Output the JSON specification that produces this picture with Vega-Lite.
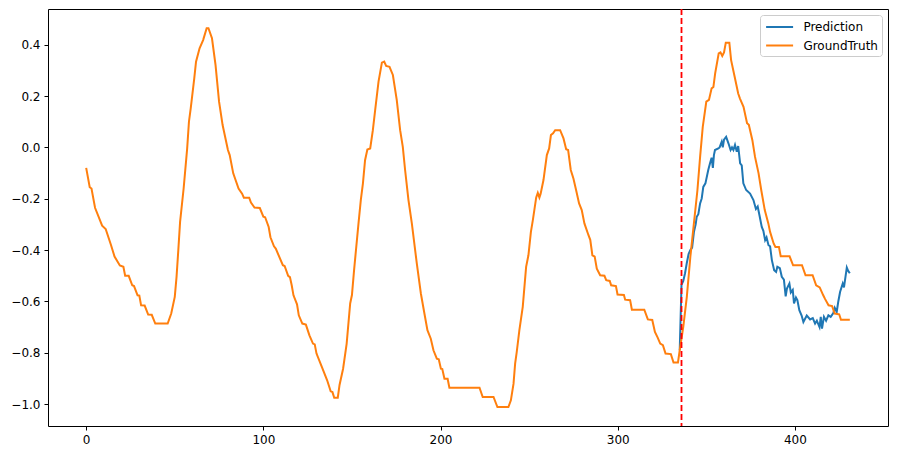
{
  "$schema": "https://vega.github.io/schema/vega-lite/v6.json",
  "width": 840,
  "height": 417,
  "autosize": "none",
  "padding": {"left": 48, "top": 9, "right": 9, "bottom": 30},
  "background": "white",
  "config": {
    "view": {"stroke": "black", "strokeWidth": 1},
    "font": "DejaVu Sans",
    "axis": {"domain": false, "grid": false, "tickColor": "black", "tickSize": 4, "tickWidth": 1, "labelFont": "DejaVu Sans", "labelFontSize": 12, "labelColor": "black", "labelPadding": 4, "title": null},
    "legend": {"orient": "top-right", "offset": 6, "title": null, "labelFont": "DejaVu Sans", "labelFontSize": 12, "labelColor": "black", "strokeColor": "#cccccc", "fillColor": "white", "cornerRadius": 3, "padding": 4, "rowPadding": 4.5, "symbolType": "M-2,0H2", "symbolSize": 182, "symbolStrokeWidth": 2, "symbolOffset": 7.6, "labelOffset": 15.8}
  },
  "datasets": {
    "gt": [
      {"x":0,"y":-0.08},{"x":2,"y":-0.155},{"x":3,"y":-0.16},{"x":5,"y":-0.235},{"x":9,"y":-0.305},{"x":11,"y":-0.318},{"x":14,"y":-0.38},{"x":16,"y":-0.425},{"x":19,"y":-0.46},{"x":21,"y":-0.465},{"x":22,"y":-0.5},{"x":24,"y":-0.5},{"x":26,"y":-0.537},{"x":27,"y":-0.54},{"x":29,"y":-0.576},{"x":30,"y":-0.577},{"x":31,"y":-0.615},{"x":33,"y":-0.616},{"x":35,"y":-0.651},{"x":37,"y":-0.652},{"x":39,"y":-0.686},{"x":46,"y":-0.686},{"x":48,"y":-0.647},{"x":50,"y":-0.582},{"x":51,"y":-0.504},{"x":52,"y":-0.4},{"x":53,"y":-0.29},{"x":55,"y":-0.16},{"x":57,"y":-0.004},{"x":58,"y":0.1},{"x":59,"y":0.152},{"x":61,"y":0.269},{"x":62,"y":0.334},{"x":64,"y":0.386},{"x":66,"y":0.418},{"x":68,"y":0.464},{"x":69,"y":0.464},{"x":71,"y":0.425},{"x":73,"y":0.321},{"x":75,"y":0.178},{"x":77,"y":0.087},{"x":80,"y":-0.01},{"x":81,"y":-0.03},{"x":83,"y":-0.101},{"x":86,"y":-0.16},{"x":88,"y":-0.18},{"x":89,"y":-0.196},{"x":92,"y":-0.196},{"x":93,"y":-0.215},{"x":95,"y":-0.234},{"x":98,"y":-0.236},{"x":100,"y":-0.27},{"x":101,"y":-0.272},{"x":103,"y":-0.31},{"x":104,"y":-0.35},{"x":106,"y":-0.385},{"x":107,"y":-0.394},{"x":111,"y":-0.459},{"x":112,"y":-0.462},{"x":114,"y":-0.5},{"x":115,"y":-0.505},{"x":116,"y":-0.537},{"x":117,"y":-0.576},{"x":119,"y":-0.611},{"x":120,"y":-0.654},{"x":122,"y":-0.686},{"x":124,"y":-0.69},{"x":126,"y":-0.732},{"x":128,"y":-0.764},{"x":129,"y":-0.767},{"x":130,"y":-0.803},{"x":133,"y":-0.855},{"x":136,"y":-0.907},{"x":138,"y":-0.95},{"x":139,"y":-0.953},{"x":140,"y":-0.975},{"x":142,"y":-0.975},{"x":143,"y":-0.925},{"x":145,"y":-0.862},{"x":147,"y":-0.765},{"x":149,"y":-0.608},{"x":150,"y":-0.575},{"x":151.2,"y":-0.478},{"x":152.8,"y":-0.361},{"x":153.7,"y":-0.296},{"x":155,"y":-0.205},{"x":156.2,"y":-0.14},{"x":157.4,"y":-0.05},{"x":158.7,"y":-0.008},{"x":160.3,"y":-0.004},{"x":161.8,"y":0.067},{"x":163.1,"y":0.145},{"x":165,"y":0.256},{"x":166.9,"y":0.33},{"x":168.2,"y":0.334},{"x":169.3,"y":0.317},{"x":171.2,"y":0.314},{"x":173.1,"y":0.282},{"x":175.3,"y":0.184},{"x":177.2,"y":0.067},{"x":178.7,"y":0.002},{"x":180,"y":-0.088},{"x":181.9,"y":-0.205},{"x":183.8,"y":-0.296},{"x":186.6,"y":-0.452},{"x":188.9,"y":-0.569},{"x":190.9,"y":-0.647},{"x":192.6,"y":-0.712},{"x":194.5,"y":-0.745},{"x":196,"y":-0.79},{"x":197.9,"y":-0.823},{"x":199,"y":-0.825},{"x":200.2,"y":-0.862},{"x":201,"y":-0.863},{"x":202.2,"y":-0.901},{"x":204,"y":-0.901},{"x":205,"y":-0.936},{"x":222,"y":-0.936},{"x":223.8,"y":-0.972},{"x":229.9,"y":-0.972},{"x":232.1,"y":-1.011},{"x":238.3,"y":-1.011},{"x":239.7,"y":-0.985},{"x":241.2,"y":-0.92},{"x":242.1,"y":-0.842},{"x":243,"y":-0.797},{"x":244.5,"y":-0.712},{"x":246.4,"y":-0.621},{"x":248.3,"y":-0.465},{"x":249.6,"y":-0.42},{"x":251,"y":-0.329},{"x":252.1,"y":-0.283},{"x":254,"y":-0.195},{"x":254.9,"y":-0.177},{"x":255.8,"y":-0.195},{"x":256.5,"y":-0.18},{"x":258.1,"y":-0.127},{"x":260,"y":-0.03},{"x":261.3,"y":-0.004},{"x":262.3,"y":0.048},{"x":263.5,"y":0.055},{"x":264.7,"y":0.067},{"x":267.5,"y":0.067},{"x":269.4,"y":0.035},{"x":270.9,"y":-0.007},{"x":272,"y":-0.01},{"x":273.5,"y":-0.088},{"x":275,"y":-0.121},{"x":276.5,"y":-0.166},{"x":278.2,"y":-0.218},{"x":279.7,"y":-0.244},{"x":281.2,"y":-0.296},{"x":283.5,"y":-0.342},{"x":284.5,"y":-0.36},{"x":285.7,"y":-0.42},{"x":287,"y":-0.425},{"x":288.2,"y":-0.472},{"x":290.1,"y":-0.498},{"x":292.5,"y":-0.5},{"x":293.5,"y":-0.517},{"x":295.5,"y":-0.52},{"x":296.3,"y":-0.537},{"x":299,"y":-0.54},{"x":299.9,"y":-0.573},{"x":303.5,"y":-0.575},{"x":304.2,"y":-0.593},{"x":307,"y":-0.595},{"x":308,"y":-0.632},{"x":315,"y":-0.632},{"x":317,"y":-0.67},{"x":319.5,"y":-0.672},{"x":321,"y":-0.719},{"x":322.5,"y":-0.74},{"x":324,"y":-0.764},{"x":325.5,"y":-0.77},{"x":327,"y":-0.803},{"x":330,"y":-0.805},{"x":331.5,"y":-0.838},{"x":334,"y":-0.838},{"x":335,"y":-0.79},{"x":336,"y":-0.745},{"x":337,"y":-0.699},{"x":339,"y":-0.582},{"x":341,"y":-0.426},{"x":343,"y":-0.296},{"x":345,"y":-0.166},{"x":346.5,"y":-0.037},{"x":348,"y":0.08},{"x":350,"y":0.178},{"x":351.5,"y":0.185},{"x":353,"y":0.23},{"x":354,"y":0.235},{"x":355,"y":0.288},{"x":357,"y":0.366},{"x":358,"y":0.37},{"x":359,"y":0.356},{"x":360,"y":0.37},{"x":361,"y":0.408},{"x":363,"y":0.408},{"x":364,"y":0.34},{"x":366,"y":0.275},{"x":368,"y":0.21},{"x":369,"y":0.19},{"x":371,"y":0.158},{"x":373,"y":0.094},{"x":374,"y":0.088},{"x":376,"y":0.028},{"x":377.5,"y":-0.037},{"x":379.5,"y":-0.101},{"x":381,"y":-0.166},{"x":383,"y":-0.244},{"x":385,"y":-0.296},{"x":386,"y":-0.329},{"x":388,"y":-0.374},{"x":389,"y":-0.388},{"x":391,"y":-0.388},{"x":392,"y":-0.424},{"x":397,"y":-0.424},{"x":399,"y":-0.459},{"x":404,"y":-0.459},{"x":406,"y":-0.498},{"x":410,"y":-0.498},{"x":412,"y":-0.537},{"x":414,"y":-0.545},{"x":416,"y":-0.576},{"x":417,"y":-0.59},{"x":419,"y":-0.615},{"x":421,"y":-0.618},{"x":422.5,"y":-0.647},{"x":425,"y":-0.65},{"x":426,"y":-0.671},{"x":431,"y":-0.671}
    ],
    "pred": [
      {"x":335,"y":-0.79},{"x":336,"y":-0.535},{"x":337,"y":-0.52},{"x":338,"y":-0.49},{"x":339,"y":-0.45},{"x":340,"y":-0.415},{"x":341,"y":-0.4},{"x":342,"y":-0.39},{"x":343,"y":-0.33},{"x":344,"y":-0.3},{"x":344.6,"y":-0.27},{"x":345.5,"y":-0.26},{"x":346.5,"y":-0.218},{"x":347.4,"y":-0.199},{"x":348.3,"y":-0.154},{"x":349.5,"y":-0.14},{"x":351.1,"y":-0.088},{"x":352.1,"y":-0.062},{"x":353,"y":-0.04},{"x":353.7,"y":-0.08},{"x":354.3,"y":-0.03},{"x":354.9,"y":-0.01},{"x":356.8,"y":-0.004},{"x":357.5,"y":0.0},{"x":358.7,"y":0.022},{"x":359.3,"y":0.0},{"x":360,"y":0.03},{"x":361.2,"y":0.041},{"x":362.5,"y":0.016},{"x":363.7,"y":-0.01},{"x":364.5,"y":0.0},{"x":365.3,"y":-0.01},{"x":366.2,"y":0.01},{"x":367.2,"y":-0.017},{"x":368,"y":0.005},{"x":369.1,"y":-0.062},{"x":370,"y":-0.07},{"x":370.9,"y":-0.14},{"x":372.5,"y":-0.166},{"x":374.7,"y":-0.18},{"x":376.6,"y":-0.205},{"x":378,"y":-0.24},{"x":379,"y":-0.23},{"x":380,"y":-0.264},{"x":381.3,"y":-0.31},{"x":382.2,"y":-0.325},{"x":383.2,"y":-0.361},{"x":384,"y":-0.35},{"x":385.1,"y":-0.381},{"x":386,"y":-0.385},{"x":387,"y":-0.439},{"x":388.3,"y":-0.478},{"x":389.4,"y":-0.485},{"x":390.1,"y":-0.465},{"x":391.5,"y":-0.47},{"x":392.6,"y":-0.504},{"x":393.8,"y":-0.515},{"x":394.8,"y":-0.58},{"x":395.5,"y":-0.55},{"x":396.9,"y":-0.53},{"x":397.7,"y":-0.565},{"x":398.8,"y":-0.555},{"x":399.5,"y":-0.608},{"x":400.6,"y":-0.585},{"x":401.4,"y":-0.595},{"x":402.5,"y":-0.634},{"x":403.8,"y":-0.655},{"x":404.8,"y":-0.68},{"x":406.7,"y":-0.655},{"x":408.6,"y":-0.67},{"x":410.1,"y":-0.665},{"x":411.4,"y":-0.686},{"x":412.4,"y":-0.675},{"x":413.9,"y":-0.7},{"x":414.6,"y":-0.66},{"x":415.3,"y":-0.706},{"x":416.4,"y":-0.66},{"x":417.6,"y":-0.675},{"x":418.9,"y":-0.654},{"x":420.2,"y":-0.66},{"x":421.7,"y":-0.645},{"x":422.5,"y":-0.625},{"x":423.6,"y":-0.641},{"x":424.5,"y":-0.6},{"x":425.5,"y":-0.563},{"x":427,"y":-0.53},{"x":427.7,"y":-0.545},{"x":429.3,"y":-0.468},{"x":430,"y":-0.48},{"x":431,"y":-0.49}
    ],
    "split": [{"x": 336}]
  },
  "layer": [
    {
      "data": {"name": "pred"},
      "transform": [{"calculate": "'Prediction'", "as": "series"}],
      "mark": {"type": "line", "strokeWidth": 2, "interpolate": "linear"},
      "encoding": {
        "x": {"field": "x", "type": "quantitative", "scale": {"domain": [-21.55, 452.55], "nice": false, "zero": false}, "axis": {"values": [0, 100, 200, 300, 400]}},
        "y": {"field": "y", "type": "quantitative", "scale": {"domain": [-1.085, 0.539], "nice": false, "zero": false}, "axis": {"values": [-1.0, -0.8, -0.6, -0.4, -0.2, 0.0, 0.2, 0.4], "format": ".1f"}},
        "color": {"field": "series", "type": "nominal", "scale": {"domain": ["Prediction", "GroundTruth"], "range": ["#1f77b4", "#ff7f0e"]}, "legend": {}}
      }
    },
    {
      "data": {"name": "gt"},
      "transform": [{"calculate": "'GroundTruth'", "as": "series"}],
      "mark": {"type": "line", "strokeWidth": 2, "interpolate": "linear"},
      "encoding": {
        "x": {"field": "x", "type": "quantitative"},
        "y": {"field": "y", "type": "quantitative"},
        "color": {"field": "series", "type": "nominal"}
      }
    },
    {
      "data": {"name": "split"},
      "mark": {"type": "rule", "color": "#ff0000", "strokeWidth": 1.8, "strokeDash": [6, 3]},
      "encoding": {
        "x": {"field": "x", "type": "quantitative"}
      }
    }
  ]
}
